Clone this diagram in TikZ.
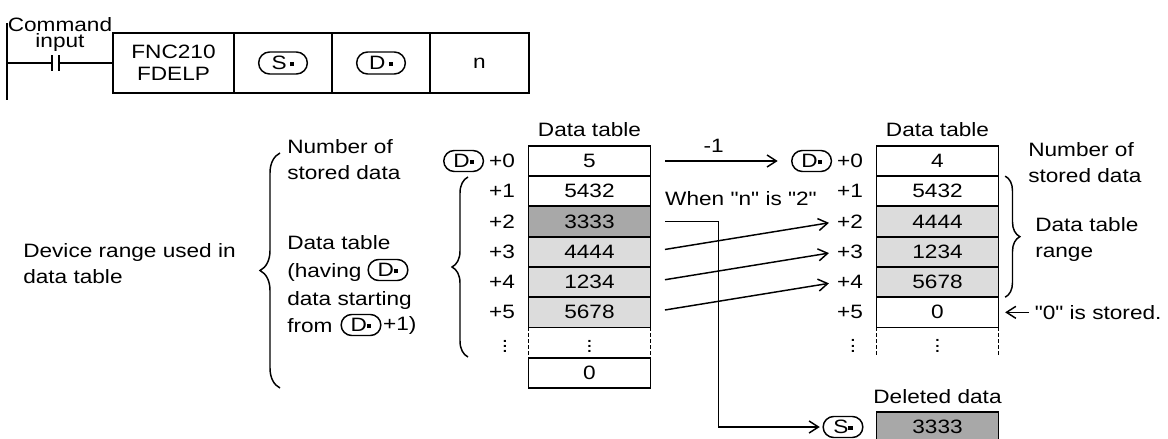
\documentclass[tikz,border=0pt]{standalone}
\usepackage{fontspec}
\setmainfont{Liberation Sans}[FakeStretch=1.17, Ligatures=TeXOff]
\usetikzlibrary{arrows.meta, positioning, shapes.misc, decorations.pathreplacing}
\definecolor{cellDark}{HTML}{A8A8A8}
\definecolor{cellLight}{HTML}{DCDCDC}
\newcommand{\opsq}{\raisebox{0.35ex}{\rule{0.22em}{0.22em}}}
\tikzset{
  arrowK/.style={-{Straight Barb[length=7pt, width=9pt]}, line width=1.1pt},
  lbl/.style={inner sep=0pt, align=left},
  cellW/.style={rectangle, draw, line width=1.4pt, outer sep=0pt, inner sep=0pt,
                minimum width=91.5pt, minimum height=22.7pt},
  cellL/.style={cellW, fill=cellLight},
  cellD/.style={cellW, fill=cellDark},
  cellGap/.style={rectangle, outer sep=0pt, inner sep=0pt,
                  minimum width=91.5pt, minimum height=22.7pt},
  gapline/.style={line width=1.4pt, dash pattern=on 3pt off 1.5pt},
  insbox/.style={rectangle, draw, line width=1.4pt, outer sep=0pt, inner sep=0pt,
                 minimum height=45pt, align=center},
  opnd/.style={rounded rectangle, draw, line width=1.1pt, inner sep=0.5pt,
               minimum width=30.75pt, minimum height=15.75pt},
  opbig/.style={opnd, minimum width=37.5pt, minimum height=16.5pt},
  curly/.style={decorate, decoration={brace, amplitude=#1}, line width=1.1pt},
  curly/.default=12pt,
}

\begin{document}
\begin{tikzpicture}[x=0.75pt, y=-0.75pt, font=\fontsize{14.5}{19.5}\selectfont]
    \useasboundingbox (0,0) rectangle (1168,439);

    % Ladder rung with the instruction
    \draw[line width=1.2pt] (7,23) -- (7,100);
    \node[lbl] (cmd) at (60,25) {Command};
    \node[lbl] (inp) at (60,43) {input};
    \node[insbox, minimum width=90.75pt, font=\fontsize{14.5}{16.5}\selectfont]
         (fnc) at (173.5,63) {FNC210\\FDELP};
    \node[insbox, minimum width=73.5pt, right=0pt of fnc] (opS) {};
    \node[insbox, minimum width=73.5pt, right=0pt of opS] (opD) {};
    \node[insbox, minimum width=74.25pt, right=0pt of opD] (opN) {n};
    \node[opbig] (symS) at (opS) {S\,\opsq};
    \node[opbig] (symD) at (opD) {D\,\opsq};
    \coordinate (rail) at (7,63);
    \coordinate (ca) at (52,63);
    \coordinate (cb) at (59,63);
    \draw[line width=1.2pt] (rail) -- (ca) (cb) -- (fnc.west);
    \draw[line width=1.2pt] (52,55) -- (52,71) (59,55) -- (59,71);

    % Left explanation
    \node[lbl, anchor=west] (dev) at (23,263.5) {Device range used in\\data table};
    \draw[curly=15pt] (280,388) -- (280,153);
    \node[lbl, anchor=west] (num1) at (287,160) {Number of\\stored data};
    \node[lbl, anchor=base west] (dt1) at (287,249) {Data table};
    \node[lbl, anchor=base west] (hav) at (287,277) {(having};
    \node[opnd] (hD) at (388,270) {D\opsq};
    \node[lbl, anchor=base west] (dst) at (287,305) {data starting};
    \node[lbl, anchor=base west] (frm) at (287,332) {from};
    \node[opnd] (fD) at (361,325) {D\opsq};
    \node[lbl, right=1pt of fD] (plus1) {+1)};

    % Data table before execution
    \node (hdrL) at (589.5,130) {Data table};
    \node[cellW] (l0) at (589.5,161) {5};
    \node[cellW, below=0pt of l0] (l1) {5432};
    \node[cellD, below=0pt of l1] (l2) {3333};
    \node[cellL, below=0pt of l2] (l3) {4444};
    \node[cellL, below=0pt of l3] (l4) {1234};
    \node[cellL, below=0pt of l4] (l5) {5678};
    \node[cellGap, below=0pt of l5] (l6) {$\vdots$};
    \node[cellW, below=0pt of l6] (l7) {0};
    \draw[gapline] (l6.north west) -- (l6.south west) (l6.north east) -- (l6.south east);

    \node[lbl, left=10pt of l0] (li0) {+0};
    \node[lbl, left=10pt of l1] (li1) {+1};
    \node[lbl, left=10pt of l2] (li2) {+2};
    \node[lbl, left=10pt of l3] (li3) {+3};
    \node[lbl, left=10pt of l4] (li4) {+4};
    \node[lbl, left=10pt of l5] (li5) {+5};
    \node[lbl, left=15pt of l6] (li6) {$\vdots$};
    \node[opnd, left=3.5pt of li0] (ld0) {D\opsq};
    \draw[curly=12pt] (468,357) -- (468,177);

    % Data table after execution
    \node (hdrR) at (937.5,130) {Data table};
    \node[cellW] (r0) at (937.5,161) {4};
    \node[cellW, below=0pt of r0] (r1) {5432};
    \node[cellL, below=0pt of r1] (r2) {4444};
    \node[cellL, below=0pt of r2] (r3) {1234};
    \node[cellL, below=0pt of r3] (r4) {5678};
    \node[cellW, below=0pt of r4] (r5) {0};
    \node[cellGap, minimum height=21.75pt, below=0pt of r5] (r6) {$\vdots$};
    \draw[gapline] (r6.north west) -- (r6.south west) (r6.north east) -- (r6.south east);

    \node[lbl, left=10pt of r0] (ri0) {+0};
    \node[lbl, left=10pt of r1] (ri1) {+1};
    \node[lbl, left=10pt of r2] (ri2) {+2};
    \node[lbl, left=10pt of r3] (ri3) {+3};
    \node[lbl, left=10pt of r4] (ri4) {+4};
    \node[lbl, left=10pt of r5] (ri5) {+5};
    \node[lbl, left=15pt of r6] (ri6) {$\vdots$};
    \node[opnd, left=3.5pt of ri0] (rd0) {D\opsq};

    \draw[curly=11pt] ([xshift=5pt]r1.north east) -- ([xshift=5pt]r4.south east);
    \node[lbl, anchor=west] (num2) at (1028,162.5) {Number of\\stored data};
    \node[lbl, anchor=west] (rng) at (1035,239.5) {Data table\\range};
    \node[lbl, right=27pt of r5] (zs) {"0" is stored.};
    \draw[arrowK, shorten <=4pt, shorten >=5pt] (zs.west) -- (r5.east);

    % Moves
    \draw[arrowK, shorten <=11pt, shorten >=10pt] (l0) --
         node[lbl, above=6pt, pos=0.45] (dec) {-1} (rd0);
    \node (when) at (741,199) {When "n" is "2"};
    \draw[arrowK, shorten <=11pt, shorten >=6pt] (l3.east) -- (ri2.west);
    \draw[arrowK, shorten <=11pt, shorten >=6pt] (l4.east) -- (ri3.west);
    \draw[arrowK, shorten <=11pt, shorten >=6pt] (l5.east) -- (ri4.west);

    % Deleted data
    \node (hdrD) at (937.5,397) {Deleted data};
    \node[cellD] (del) at (937.5,427) {3333};
    \node[opnd] (so) at (843,427) {S\opsq};
    \draw[arrowK, shorten <=11pt, shorten >=2pt] (l2.east) -- ++(68,0) |- (so.west);
  \end{tikzpicture}
\end{document}
